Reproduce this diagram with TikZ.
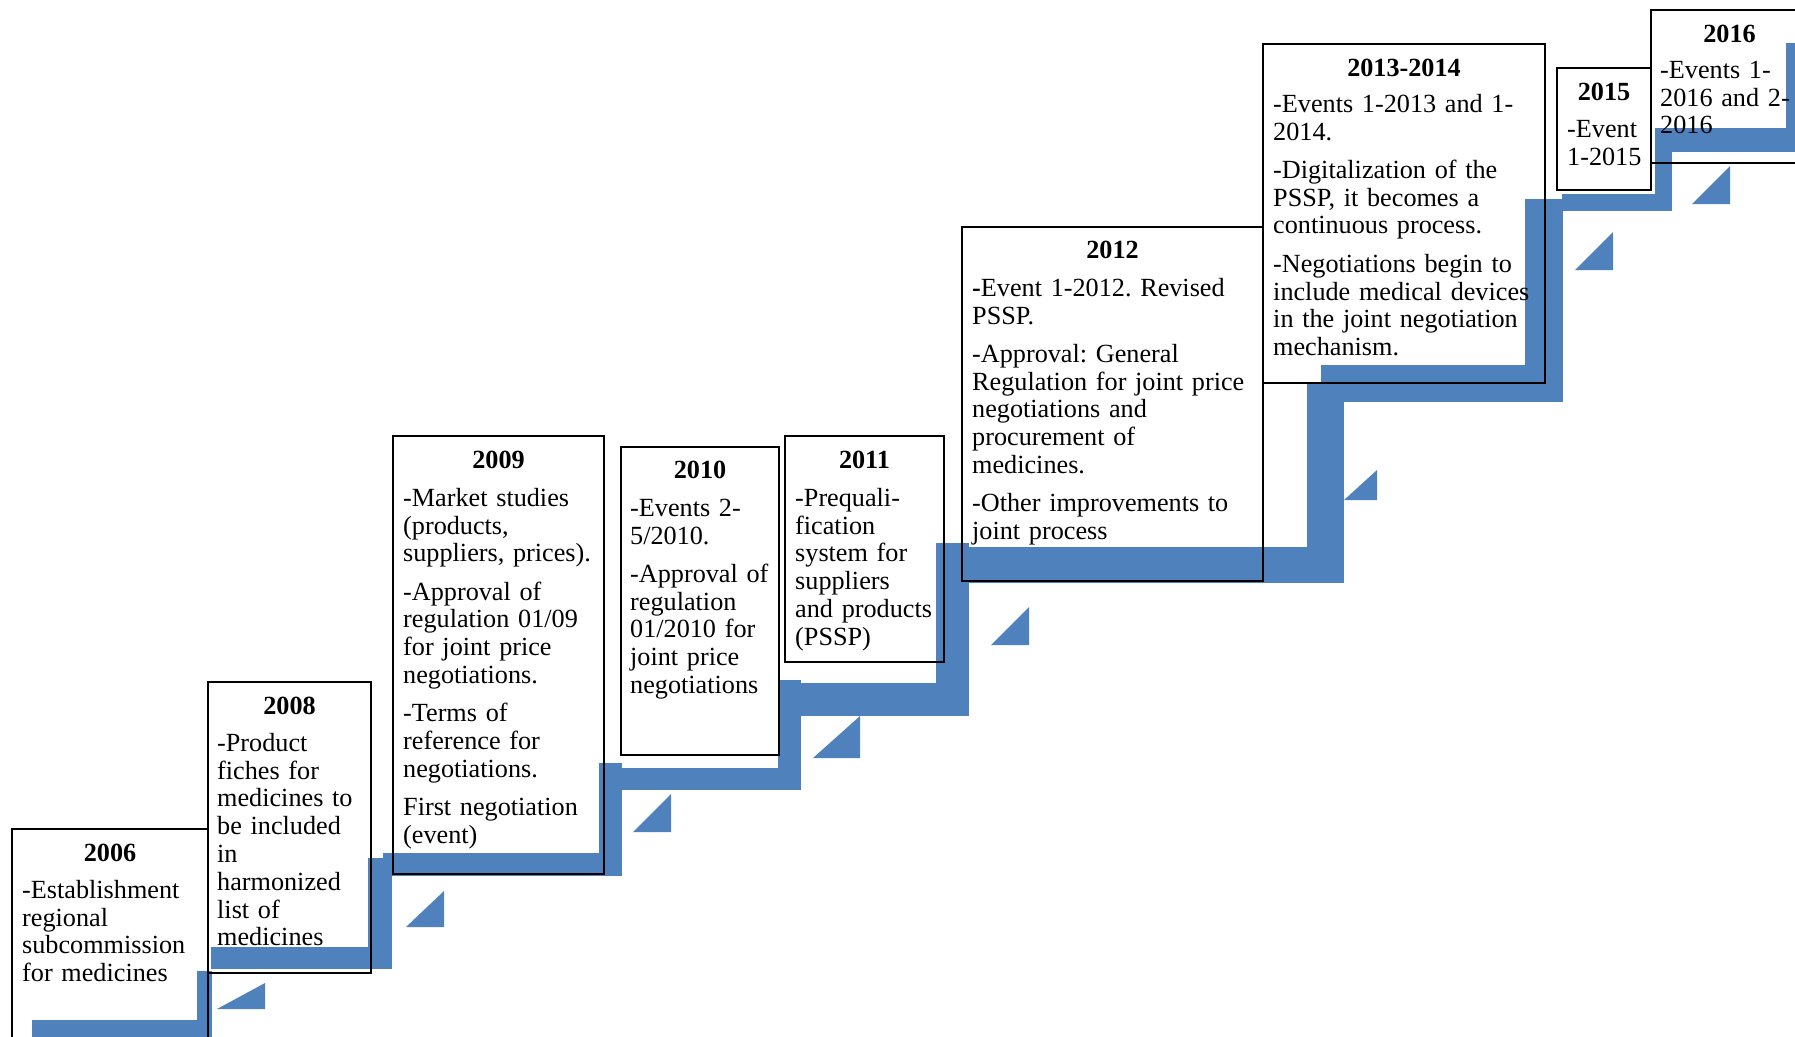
\documentclass[tikz,border=0pt]{standalone}
\usepackage{fontspec}
\setmainfont{Liberation Serif}
\definecolor{stepblue}{RGB}{79,129,189}
\newcommand\tlfont{\fontsize{26.2}{27.8}\selectfont\frenchspacing}
\newcommand\firstline{\rule{0pt}{21pt}}
\begin{document}
\frenchspacing
\begin{tikzpicture}[x=1pt,y=-1pt,
  stepfill/.style={fill=stepblue},
  yearbox/.style={draw=black,line width=2pt},
  yearhead/.style={font=\tlfont\bfseries,anchor=base,inner sep=0pt},
  yearbody/.style={font=\tlfont,anchor=north west,inner sep=0pt,align=left,text width=400pt}]
\useasboundingbox (0,0) rectangle (1795,1036);
\clip (0,0) rectangle (1795,1036);
% ---- blue staircase ----
\fill[stepfill] (32,1020) rectangle (212,1040);
\fill[stepfill] (197,971) rectangle (212,1040);
\fill[stepfill] (211,947) rectangle (392,969);
\fill[stepfill] (368,858) rectangle (392,969);
\fill[stepfill] (383,853) rectangle (622,876);
\fill[stepfill] (599,763) rectangle (622,876);
\fill[stepfill] (622,768) rectangle (801,790);
\fill[stepfill] (778,680) rectangle (801,790);
\fill[stepfill] (801,683) rectangle (969,716);
\fill[stepfill] (936,543) rectangle (969,716);
\fill[stepfill] (969,547) rectangle (1344,583);
\fill[stepfill] (1307,382) rectangle (1344,583);
\fill[stepfill] (1321,365) rectangle (1563,402);
\fill[stepfill] (1525,199) rectangle (1563,402);
\fill[stepfill] (1562,194) rectangle (1672,211);
\fill[stepfill] (1655,128) rectangle (1672,211);
\fill[stepfill] (1672,128) rectangle (1800,152);
\fill[stepfill] (1786,43) rectangle (1800,152);
% ---- triangles ----
\fill[stepfill] (217,1009) -- (265,1009) -- (265,983) -- cycle;
\fill[stepfill] (406,927) -- (444,927) -- (444,891) -- cycle;
\fill[stepfill] (633,832) -- (671,832) -- (671,794) -- cycle;
\fill[stepfill] (813,758) -- (860,758) -- (860,716) -- cycle;
\fill[stepfill] (991,645) -- (1029,645) -- (1029,607) -- cycle;
\fill[stepfill] (1344,500) -- (1377,500) -- (1377,470) -- cycle;
\fill[stepfill] (1575,270) -- (1613,270) -- (1613,232) -- cycle;
\fill[stepfill] (1692,204) -- (1730,204) -- (1730,166) -- cycle;
% ---- boxes ----
\draw[yearbox] (12,829) rectangle (208,1050);
\draw[yearbox] (208,682) rectangle (371,973);
\draw[yearbox] (393,436) rectangle (604,874);
\draw[yearbox] (621,447) rectangle (779,755);
\draw[yearbox] (785,436) rectangle (944,662);
\draw[yearbox] (962,227) rectangle (1263,581);
\draw[yearbox] (1263,44) rectangle (1545,383);
\draw[yearbox] (1557,68) rectangle (1651,190);
\draw[yearbox] (1651,10) rectangle (1808,163);
% ---- texts ----
\node[yearhead] (h2006) at (110,861) {2006};
\node[yearbody] (t2006) at (22,877) {\firstline-Establishment\\regional\\subcommission\\for medicines};
\node[yearhead] (h2008) at (289.5,714) {2008};
\node[yearbody] (t2008) at (217,730) {\firstline-Product\\fiches for\\medicines to\\be included\\in\\harmonized\\list of\\medicines};
\node[yearhead] (h2009) at (498.5,468) {2009};
\node[yearbody] (t2009) at (403,485) {\firstline-Market studies\\(products,\\suppliers, prices).\\[10.5pt]-Approval of\\regulation 01/09\\for joint price\\negotiations.\\[10.5pt]-Terms of\\reference for\\negotiations.\\[10.5pt]First negotiation\\(event)};
\node[yearhead] (h2010) at (700,478) {2010};
\node[yearbody] (t2010) at (630,495) {\firstline-Events 2-\\5/2010.\\[10.5pt]-Approval of\\regulation\\01/2010 for\\joint price\\negotiations};
\node[yearhead] (h2011) at (864.5,468) {2011};
\node[yearbody] (t2011) at (795,485) {\firstline-Prequali-\\fication\\system for\\suppliers\\and products\\(PSSP)};
\node[yearhead] (h2012) at (1112.5,258) {2012};
\node[yearbody] (t2012) at (972,275) {\firstline\textbf{-}Event 1-2012. Revised\\PSSP.\\[10.5pt]-Approval: General\\Regulation for joint price\\negotiations and\\procurement of\\medicines.\\[10.5pt]-Other improvements to\\joint process};
\node[yearhead] (h2013) at (1404,76) {2013-2014};
\node[yearbody] (t2013) at (1273,91) {\firstline-Events 1-2013 and 1-\\2014.\\[10.5pt]-Digitalization of the\\PSSP, it becomes a\\continuous process.\\[10.5pt]-Negotiations begin to\\include medical devices\\in the joint negotiation\\mechanism.};
\node[yearhead] (h2015) at (1604,100) {2015};
\node[yearbody] (t2015) at (1567,116) {\firstline-Event\\1-2015};
\node[yearhead] (h2016) at (1729.5,42) {2016};
\node[yearbody] (t2016) at (1660,57) {\firstline-Events 1-\\2016 and 2-\\2016};
\end{tikzpicture}
\end{document}
